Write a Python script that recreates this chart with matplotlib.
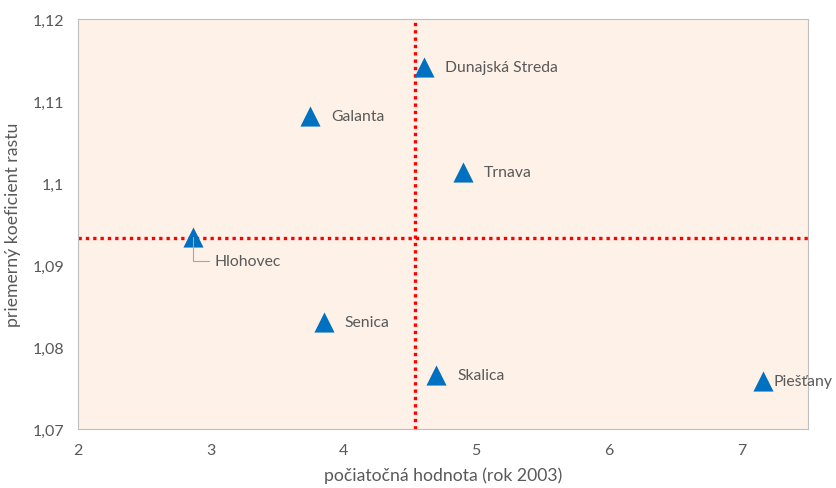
import matplotlib
matplotlib.use("Agg")
import matplotlib.pyplot as plt
from matplotlib.ticker import FuncFormatter, MultipleLocator

# okresy Trnavskeho kraja
okresy = ['Dunajská Streda', 'Galanta', 'Trnava', 'Hlohovec', 'Senica', 'Skalica', 'Piešťany']
pociatok = [4.61, 3.75, 4.90, 2.87, 3.85, 4.70, 7.16]
koeficient = [1.1141, 1.1082, 1.1013, 1.0934, 1.0830, 1.0766, 1.0759]

priemer_x = 4.54
priemer_y = 1.0933

plt.rcParams['font.family'] = ['Lato', 'DejaVu Sans']
GRAY = '#595959'

fig = plt.figure(figsize=(8.36, 4.89), dpi=100)
ax = fig.add_axes([0.0933, 0.1207, 0.8732, 0.8383])
ax.set_facecolor('#FDF1E8')

ax.axvline(priemer_x, color='#FF0000', linestyle=(0, (1, 1.2)), linewidth=2.4, zorder=2)
ax.axhline(priemer_y, color='#FF0000', linestyle=(0, (1, 1.2)), linewidth=2.4, zorder=2)

ax.scatter(pociatok, koeficient, marker='^', s=210, color='#0070C0', zorder=3, linewidths=0)

for name, x, y in zip(okresy, pociatok, koeficient):
    if name == 'Hlohovec':
        ax.annotate(name, (x, y), xytext=(15, -17), textcoords='offset points',
                    fontsize=11.3, color=GRAY, va='center', ha='left', zorder=4,
                    arrowprops=dict(arrowstyle='-', color='#A6A6A6', lw=0.8,
                                    connectionstyle='angle,angleA=0,angleB=90,rad=0',
                                    shrinkA=2, shrinkB=0))
    elif name == 'Piešťany':
        ax.annotate(name, (x, y), xytext=(8, 0), textcoords='offset points',
                    fontsize=11.3, color=GRAY, va='center', ha='left', zorder=4,
                    annotation_clip=False)
    else:
        ax.annotate(name, (x, y), xytext=(15, 0), textcoords='offset points',
                    fontsize=11.3, color=GRAY, va='center', ha='left', zorder=4)

ax.set_xlim(2, 7.5)
ax.set_ylim(1.07, 1.12)
ax.xaxis.set_major_locator(MultipleLocator(1))
ax.yaxis.set_major_locator(MultipleLocator(0.01))
ax.xaxis.set_major_formatter(FuncFormatter(lambda v, p: f"{v:g}".replace('.', ',')))
ax.yaxis.set_major_formatter(FuncFormatter(lambda v, p: f"{round(v, 4):g}".replace('.', ',')))
ax.tick_params(length=0, labelsize=11.5, labelcolor=GRAY, pad=10)

for s in ax.spines.values():
    s.set_color('#BFBFBF')
    s.set_linewidth(0.8)

ax.set_xlabel('počiatočná hodnota (rok 2003)', fontsize=12.7, color=GRAY, labelpad=7)
ax.set_ylabel('priemerný koeficient rastu', fontsize=12.7, color=GRAY, labelpad=8)

fig.savefig('out.png', dpi=100)
